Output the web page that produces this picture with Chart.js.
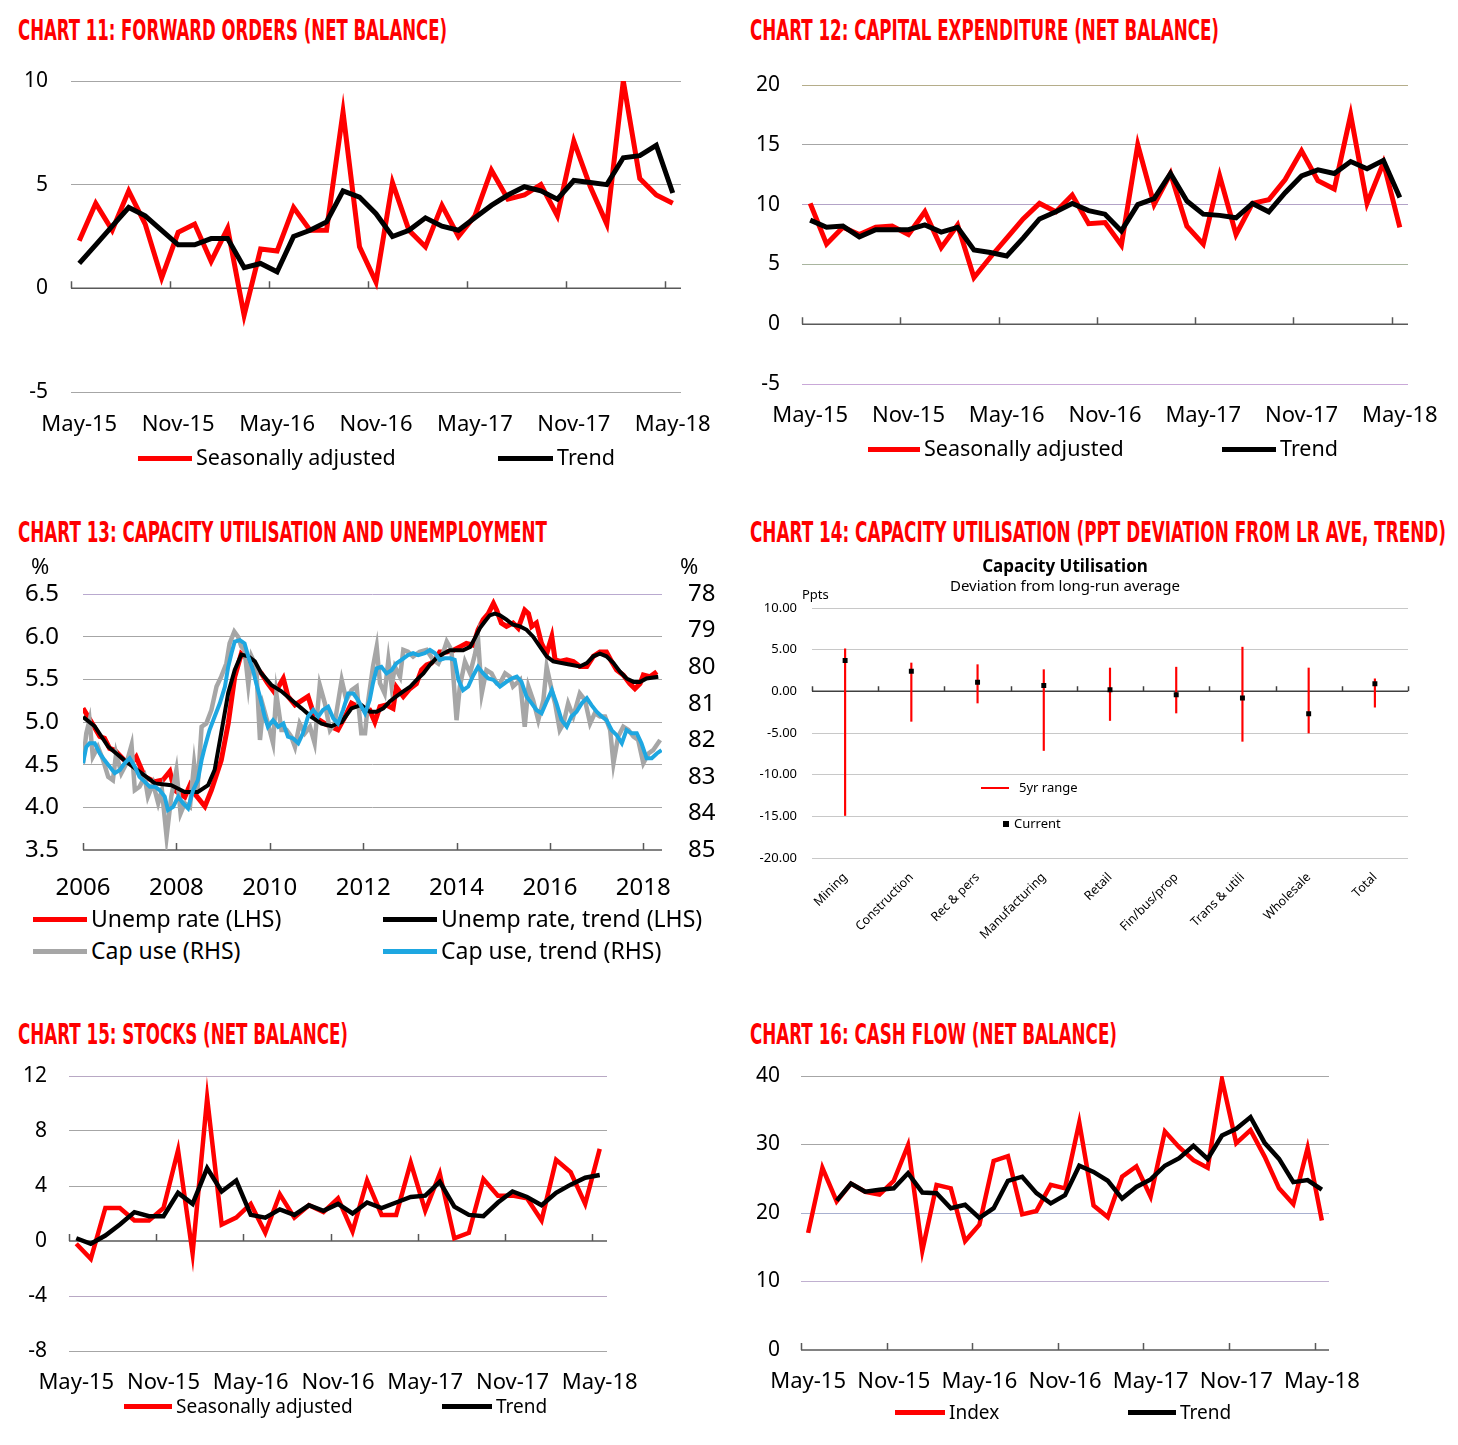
<!DOCTYPE html>
<html>
<head>
<meta charset="utf-8">
<script src="https://cdn.jsdelivr.net/npm/chart.js@4.4.0/dist/chart.umd.min.js"></script>
<style>
  body { margin: 0; width: 1458px; height: 1445px; background: #fff; position: relative; overflow: hidden;
         font-family: "Noto Sans", "Open Sans", sans-serif; }
  canvas { position: absolute; }
  .title { position: absolute; font-family: "Liberation Sans Narrow", "DejaVu Sans Condensed", "Liberation Sans", sans-serif;
           font-weight: bold; color: #f00; font-size: 28px; line-height: 1; white-space: nowrap; transform-origin: left top; }
  .leg { position: absolute; white-space: nowrap; color: #000; line-height: 26px; }
  .leg i { display: inline-block; height: 5px; vertical-align: middle; margin-right: 4px; position: relative; top: -1px; }
  .txt { position: absolute; white-space: nowrap; color: #000; }
</style>
</head>
<body>

<div class="title" data-w="429" style="left:18px;top:17px">CHART 11: FORWARD ORDERS (NET BALANCE)</div>
<div class="title" data-w="469" style="left:750px;top:17px">CHART 12: CAPITAL EXPENDITURE (NET BALANCE)</div>
<div class="title" data-w="529" style="left:18px;top:519px">CHART 13: CAPACITY UTILISATION AND UNEMPLOYMENT</div>
<div class="title" data-w="696" style="left:750px;top:519px">CHART 14: CAPACITY UTILISATION (PPT DEVIATION FROM LR AVE, TREND)</div>
<div class="title" data-w="330" style="left:18px;top:1021px">CHART 15: STOCKS (NET BALANCE)</div>
<div class="title" data-w="367" style="left:750px;top:1021px">CHART 16: CASH FLOW (NET BALANCE)</div>

<canvas id="c11" width="720" height="390" style="left:0;top:60px"></canvas>
<canvas id="c12" width="728" height="390" style="left:730px;top:60px"></canvas>
<canvas id="c13" width="730" height="330" style="left:0;top:575px"></canvas>
<canvas id="c14" width="728" height="360" style="left:730px;top:595px"></canvas>
<canvas id="c15" width="720" height="385" style="left:0;top:1060px"></canvas>
<canvas id="c16" width="728" height="385" style="left:730px;top:1060px"></canvas>

<!-- legends -->
<div class="leg" style="left:138px;top:444px;font-size:21.5px"><i style="width:54px;background:#f00"></i>Seasonally adjusted</div>
<div class="leg" style="left:498px;top:444px;font-size:21.5px"><i style="width:55px;background:#000"></i>Trend</div>
<div class="leg" style="left:868px;top:435px;font-size:21.5px"><i style="width:52px;background:#f00"></i>Seasonally adjusted</div>
<div class="leg" style="left:1222px;top:435px;font-size:21.5px"><i style="width:54px;background:#000"></i>Trend</div>

<div class="txt" style="left:31px;top:550px;font-size:22px">%</div>
<div class="txt" style="left:680px;top:550px;font-size:22px">%</div>
<div class="leg" style="left:33px;top:905px;font-size:23px"><i style="width:54px;background:#f00"></i>Unemp rate (LHS)</div>
<div class="leg" style="left:383px;top:905px;font-size:23px"><i style="width:54px;background:#000"></i>Unemp rate, trend (LHS)</div>
<div class="leg" style="left:33px;top:937px;font-size:23px"><i style="width:54px;background:#a6a6a6"></i>Cap use (RHS)</div>
<div class="leg" style="left:383px;top:937px;font-size:23px"><i style="width:54px;background:#1ea7e1"></i>Cap use, trend (RHS)</div>

<div class="txt" style="left:1065px;top:554px;font-size:17px;font-weight:bold;transform:translateX(-50%)">Capacity Utilisation</div>
<div class="txt" style="left:1065px;top:575px;font-size:15px;transform:translateX(-50%)">Deviation from long-run average</div>
<div class="txt" style="left:802px;top:585px;font-size:13px">Ppts</div>
<div class="leg" style="left:981px;top:774px;font-size:13px"><i style="width:28px;height:2px;background:#f00;margin-right:10px"></i>5yr range</div>
<div class="leg" style="left:1003px;top:810px;font-size:13px"><i style="width:6px;height:6px;background:#000;margin-right:5px"></i>Current</div>

<div class="leg" style="left:124px;top:1393px;font-size:19px"><i style="width:48px;background:#f00"></i>Seasonally adjusted</div>
<div class="leg" style="left:442px;top:1393px;font-size:19px"><i style="width:50px;background:#000"></i>Trend</div>
<div class="leg" style="left:895px;top:1399px;font-size:19px"><i style="width:50px;background:#f00"></i>Index</div>
<div class="leg" style="left:1128px;top:1399px;font-size:19px"><i style="width:48px;background:#000"></i>Trend</div>

<script>
// ---- shared month categories (May-15 .. May-18)
const months = ['May-15','Jun-15','Jul-15','Aug-15','Sep-15','Oct-15','Nov-15','Dec-15','Jan-16','Feb-16',
  'Mar-16','Apr-16','May-16','Jun-16','Jul-16','Aug-16','Sep-16','Oct-16','Nov-16','Dec-16','Jan-17','Feb-17',
  'Mar-17','Apr-17','May-17','Jun-17','Jul-17','Aug-17','Sep-17','Oct-17','Nov-17','Dec-17','Jan-18','Feb-18',
  'Mar-18','Apr-18','May-18'];

// Chart 11 - forward orders
const fwdSA = [2.3, 4.1, 2.8, 4.7, 3.1, 0.5, 2.7, 3.1, 1.3, 2.9, -1.3, 1.9, 1.8, 3.9, 2.8, 2.8, 8.5, 2.0, 0.3,
  5.1, 2.8, 2.0, 4.0, 2.5, 3.5, 5.7, 4.3, 4.5, 5.0, 3.5, 7.1, 4.9, 3.1, 10.0, 5.3, 4.5, 4.1];
const fwdTrend = [1.2, 2.1, 3.0, 3.9, 3.5, 2.8, 2.1, 2.1, 2.4, 2.4, 1.0, 1.2, 0.8, 2.5, 2.8, 3.2, 4.7, 4.4, 3.6,
  2.5, 2.8, 3.4, 3.0, 2.8, 3.4, 4.0, 4.5, 4.9, 4.7, 4.3, 5.2, 5.1, 5.0, 6.3, 6.4, 6.9, 4.6];

// Chart 12 - capital expenditure
const capexSA = [10.1, 6.7, 8.1, 7.5, 8.1, 8.2, 7.5, 9.4, 6.4, 8.3, 3.9, 5.6, 7.2, 8.8, 10.1, 9.4, 10.8, 8.4,
  8.5, 6.6, 15.0, 10.0, 12.6, 8.2, 6.7, 12.4, 7.5, 10.1, 10.4, 12.1, 14.5, 12.0, 11.3, 17.5, 10.1, 13.5, 8.1];
const capexTrend = [8.7, 8.1, 8.2, 7.3, 7.9, 7.9, 7.9, 8.3, 7.7, 8.1, 6.2, 6.0, 5.7, 7.2, 8.8, 9.4, 10.1, 9.5,
  9.2, 7.8, 10.0, 10.5, 12.6, 10.3, 9.2, 9.1, 8.9, 10.1, 9.4, 11.0, 12.4, 12.9, 12.6, 13.6, 13.0, 13.7, 10.6];

// Chart 13 - unemployment (LHS) and capacity utilisation (RHS, inverted)
const unempYears = [2006.00, 2006.18, 2006.36, 2006.46, 2006.57, 2006.68, 2006.89, 2007.04, 2007.14, 2007.32,
  2007.54, 2007.71, 2007.86, 2007.96, 2008.18, 2008.29, 2008.39, 2008.61, 2008.75, 2008.96, 2009.11, 2009.25,
  2009.39, 2009.54, 2009.68, 2009.82, 2009.96, 2010.11, 2010.29, 2010.39, 2010.54, 2010.82, 2010.96, 2011.18,
  2011.46, 2011.61, 2011.75, 2011.96, 2012.14, 2012.25, 2012.36, 2012.50, 2012.64, 2012.71, 2012.86, 2013.00,
  2013.14, 2013.25, 2013.36, 2013.46, 2013.57, 2013.64, 2013.79, 2013.93, 2014.07, 2014.21, 2014.36, 2014.46,
  2014.57, 2014.68, 2014.79, 2014.86, 2014.96, 2015.07, 2015.21, 2015.32, 2015.46, 2015.54, 2015.61, 2015.71,
  2015.82, 2015.93, 2016.04, 2016.11, 2016.21, 2016.36, 2016.50, 2016.64, 2016.79, 2016.93, 2017.07, 2017.21,
  2017.32, 2017.43, 2017.57, 2017.71, 2017.82, 2017.93, 2018.00, 2018.14, 2018.29];
const unempRate = [5.16, 5.00, 4.83, 4.81, 4.69, 4.67, 4.55, 4.52, 4.59, 4.36,
  4.30, 4.32, 4.42, 4.20, 4.12, 4.26, 4.16, 4.01, 4.20, 4.55, 4.98, 5.53,
  5.80, 5.73, 5.65, 5.57, 5.45, 5.34, 5.51, 5.30, 5.20, 5.30, 5.06, 4.98,
  4.91, 5.06, 5.22, 5.16, 5.14, 5.00, 5.18, 5.20, 5.16, 5.41, 5.30, 5.39,
  5.45, 5.61, 5.67, 5.69, 5.75, 5.82, 5.82, 5.84, 5.88, 5.92, 5.90, 6.08,
  6.20, 6.27, 6.39, 6.31, 6.16, 6.12, 6.16, 6.10, 6.31, 6.27, 6.12, 6.16,
  5.92, 5.80, 6.00, 5.73, 5.71, 5.73, 5.71, 5.65, 5.65, 5.77, 5.82, 5.82,
  5.71, 5.61, 5.55, 5.45, 5.39, 5.45, 5.55, 5.53, 5.59];
const unempTrendYears = [2006.00, 2006.25, 2006.54, 2006.89, 2007.25, 2007.54, 2007.89, 2008.18, 2008.46, 2008.68,
  2008.82, 2008.96, 2009.11, 2009.25, 2009.39, 2009.54, 2009.68, 2009.82, 2010.04, 2010.25, 2010.46, 2010.68,
  2010.89, 2011.11, 2011.32, 2011.54, 2011.75, 2011.96, 2012.14, 2012.29, 2012.43, 2012.57, 2012.71, 2012.86,
  2013.00, 2013.14, 2013.29, 2013.43, 2013.57, 2013.71, 2013.86, 2014.14, 2014.29, 2014.39, 2014.50, 2014.61,
  2014.71, 2014.82, 2014.93, 2015.07, 2015.21, 2015.36, 2015.50, 2015.64, 2015.79, 2015.93, 2016.07, 2016.36,
  2016.64, 2016.79, 2016.93, 2017.07, 2017.21, 2017.36, 2017.50, 2017.64, 2017.79, 2017.93, 2018.07, 2018.32];
const unempTrend = [5.06, 4.95, 4.71, 4.55, 4.40, 4.28, 4.26, 4.18, 4.18, 4.26,
  4.44, 4.87, 5.34, 5.61, 5.79, 5.77, 5.71, 5.57, 5.43, 5.36, 5.26, 5.16,
  5.06, 4.98, 4.95, 5.00, 5.16, 5.20, 5.12, 5.12, 5.16, 5.24, 5.30, 5.36,
  5.41, 5.49, 5.57, 5.67, 5.75, 5.80, 5.84, 5.84, 5.88, 5.98, 6.10, 6.18,
  6.25, 6.27, 6.25, 6.20, 6.14, 6.12, 6.08, 6.00, 5.88, 5.77, 5.71, 5.68,
  5.65, 5.69, 5.77, 5.80, 5.77, 5.69, 5.59, 5.51, 5.47, 5.47, 5.51, 5.53];
const capYears = [2006.00, 2006.07, 2006.14, 2006.21, 2006.32, 2006.43, 2006.54, 2006.64, 2006.71, 2006.82,
  2006.93, 2007.04, 2007.11, 2007.21, 2007.32, 2007.39, 2007.50, 2007.61, 2007.69, 2007.79, 2007.89, 2008.00,
  2008.09, 2008.18, 2008.29, 2008.38, 2008.45, 2008.54, 2008.64, 2008.75, 2008.86, 2008.96, 2009.07, 2009.14,
  2009.24, 2009.32, 2009.39, 2009.46, 2009.54, 2009.61, 2009.71, 2009.79, 2009.86, 2009.96, 2010.07, 2010.14,
  2010.25, 2010.36, 2010.46, 2010.54, 2010.64, 2010.75, 2010.86, 2010.96, 2011.07, 2011.18, 2011.29, 2011.39,
  2011.54, 2011.64, 2011.75, 2011.86, 2011.96, 2012.04, 2012.11, 2012.21, 2012.29, 2012.36, 2012.46, 2012.54,
  2012.61, 2012.68, 2012.79, 2012.86, 2012.96, 2013.07, 2013.21, 2013.36, 2013.50, 2013.61, 2013.71, 2013.79,
  2013.89, 2014.00, 2014.07, 2014.18, 2014.29, 2014.39, 2014.46, 2014.54, 2014.64, 2014.75, 2014.86, 2014.93,
  2015.04, 2015.14, 2015.21, 2015.36, 2015.46, 2015.54, 2015.64, 2015.75, 2015.86, 2015.93, 2016.04, 2016.11,
  2016.21, 2016.29, 2016.39, 2016.50, 2016.64, 2016.75, 2016.86, 2016.96, 2017.07, 2017.18, 2017.29, 2017.36,
  2017.46, 2017.57, 2017.68, 2017.79, 2017.89, 2018.00, 2018.11, 2018.21, 2018.36];
const capUse = [82.63, 81.81, 81.45, 82.45, 82.18, 82.54, 83.00, 83.09, 82.36, 82.90,
  82.63, 82.13, 83.36, 83.27, 83.00, 83.54, 83.18, 83.72, 83.36, 84.64, 83.54, 82.81,
  84.00, 83.72, 83.82, 82.63, 83.36, 81.63, 81.54, 81.17, 80.53, 80.26, 79.90, 79.35,
  79.03, 79.17, 79.44, 79.53, 80.49, 79.71, 79.99, 81.99, 81.08, 81.54, 82.08, 80.72,
  81.72, 81.72, 81.90, 82.18, 81.54, 81.81, 81.63, 82.08, 80.49, 80.99, 81.72, 81.54,
  80.35, 80.90, 80.63, 80.53, 81.81, 81.81, 80.90, 79.99, 79.44, 80.44, 80.72, 79.80,
  80.53, 79.99, 80.26, 79.53, 79.58, 79.71, 79.58, 79.53, 79.80, 79.90, 79.62, 79.30,
  79.53, 81.45, 80.53, 79.85, 80.17, 79.67, 79.21, 80.72, 80.08, 80.17, 80.44, 80.44,
  80.17, 80.26, 80.53, 80.35, 81.63, 80.53, 80.90, 81.45, 80.90, 79.99, 80.63, 80.99,
  81.72, 81.54, 80.99, 81.35, 80.72, 80.90, 81.54, 81.26, 81.35, 81.35, 81.72, 82.63,
  81.90, 81.63, 81.72, 81.90, 81.99, 82.63, 82.36, 82.27, 81.99];
const capTrendYears = [2006.00, 2006.07, 2006.14, 2006.25, 2006.36, 2006.46, 2006.57, 2006.68, 2006.79, 2006.89,
  2007.00, 2007.11, 2007.21, 2007.32, 2007.43, 2007.54, 2007.64, 2007.75, 2007.82, 2007.93, 2008.04, 2008.14,
  2008.25, 2008.36, 2008.46, 2008.54, 2008.61, 2008.71, 2008.82, 2008.93, 2009.04, 2009.11, 2009.18, 2009.25,
  2009.36, 2009.46, 2009.54, 2009.64, 2009.71, 2009.79, 2009.89, 2009.96, 2010.07, 2010.18, 2010.29, 2010.39,
  2010.50, 2010.61, 2010.71, 2010.82, 2010.93, 2011.04, 2011.14, 2011.25, 2011.36, 2011.46, 2011.57, 2011.68,
  2011.79, 2011.89, 2012.04, 2012.14, 2012.21, 2012.29, 2012.39, 2012.50, 2012.61, 2012.71, 2012.82, 2012.96,
  2013.07, 2013.18, 2013.32, 2013.43, 2013.54, 2013.64, 2013.75, 2013.86, 2013.96, 2014.04, 2014.14, 2014.25,
  2014.36, 2014.46, 2014.57, 2014.68, 2014.79, 2014.93, 2015.07, 2015.18, 2015.29, 2015.39, 2015.50, 2015.61,
  2015.71, 2015.82, 2015.93, 2016.04, 2016.14, 2016.25, 2016.36, 2016.46, 2016.57, 2016.68, 2016.79, 2016.89,
  2017.00, 2017.11, 2017.21, 2017.32, 2017.43, 2017.54, 2017.64, 2017.75, 2017.86, 2017.96, 2018.07, 2018.18,
  2018.29, 2018.39];
const capTrend = [82.63, 82.18, 82.08, 82.08, 82.36, 82.54, 82.72, 82.90, 82.81, 82.63,
  82.49, 82.72, 83.00, 83.13, 83.27, 83.27, 83.36, 83.54, 83.91, 83.82, 83.54, 83.72,
  83.86, 83.36, 83.09, 82.54, 82.18, 81.72, 81.35, 80.99, 80.53, 79.99, 79.62, 79.30,
  79.26, 79.35, 79.71, 80.08, 80.44, 80.81, 81.35, 81.63, 81.45, 81.63, 81.54, 81.90,
  81.95, 82.08, 81.81, 81.35, 81.17, 81.35, 81.17, 81.08, 81.40, 81.54, 81.17, 80.72,
  80.72, 80.90, 81.26, 80.90, 80.44, 80.03, 79.99, 80.17, 80.08, 79.90, 79.80, 79.67,
  79.62, 79.67, 79.62, 79.53, 79.62, 79.80, 79.76, 79.76, 79.80, 80.35, 80.63, 80.53,
  80.22, 79.99, 80.17, 80.31, 80.35, 80.53, 80.40, 80.31, 80.26, 80.40, 80.81, 80.99,
  81.17, 81.26, 80.94, 80.63, 80.99, 81.45, 81.63, 81.35, 81.22, 80.99, 80.85, 81.04,
  81.22, 81.35, 81.45, 81.72, 81.86, 82.08, 81.72, 81.81, 81.81, 82.08, 82.49, 82.49,
  82.36, 82.27];
const yearTicks = [2006, 2008, 2010, 2012, 2014, 2016, 2018];

// Chart 14 - capacity utilisation by sector
const sectors = ['Mining', 'Construction', 'Rec & pers', 'Manufacturing', 'Retail', 'Fin/bus/prop',
  'Trans & utili', 'Wholesale', 'Total'];
const rangeHigh = [5.1, 3.4, 3.2, 2.6, 2.8, 2.9, 5.3, 2.8, 1.5];
const rangeLow = [-14.9, -3.6, -1.4, -7.1, -3.5, -2.6, -6.0, -5.0, -1.9];
const current = [3.7, 2.4, 1.1, 0.7, 0.2, -0.4, -0.8, -2.7, 0.9];

// Chart 15 - stocks
const stocksSA = [-0.2, -1.3, 2.4, 2.4, 1.5, 1.5, 2.4, 6.6, -0.9, 10.4, 1.2, 1.7, 2.7, 0.6, 3.4, 1.7, 2.6, 2.1, 3.1,
  0.7, 4.4, 1.9, 1.9, 5.7, 2.2, 4.9, 0.2, 0.6, 4.5, 3.3, 3.3, 3.1, 1.5, 5.9, 5.0, 2.7, 6.7];
const stocksTrend = [0.2, -0.2, 0.4, 1.2, 2.1, 1.8, 1.8, 3.5, 2.7, 5.3, 3.6, 4.4, 1.9, 1.7, 2.3, 1.9, 2.6, 2.2, 2.7,
  2.0, 2.8, 2.4, 2.8, 3.2, 3.3, 4.3, 2.5, 1.9, 1.8, 2.8, 3.6, 3.2, 2.6, 3.5, 4.1, 4.6, 4.8];

// Chart 16 - cash flow
const cashIndex = [17.1, 26.6, 21.7, 24.3, 23.1, 22.7, 24.7, 29.9, 14.5, 24.1, 23.6, 15.9, 18.3, 27.6, 28.3, 19.8, 20.3, 24.1, 23.6,
  33.2, 21.1, 19.4, 25.3, 26.8, 22.4, 31.9, 29.6, 27.7, 26.6, 39.5, 30.2, 32.1, 28.2, 23.6, 21.3, 29.5, 18.9];
const cashTrend = [null, null, 21.8, 24.3, 23.1, 23.4, 23.6, 25.8, 23.0, 22.9, 20.7, 21.2, 19.3, 20.7, 24.7, 25.3, 22.9, 21.4, 22.6,
  26.9, 26.0, 24.7, 22.1, 23.8, 24.9, 26.9, 28.0, 29.8, 27.9, 31.3, 32.3, 34.0, 30.2, 27.9, 24.5, 24.8, 23.4];


// fit the condensed titles to their width
document.querySelectorAll('.title').forEach(t => {
  const w = t.getBoundingClientRect().width;
  t.style.transform = 'scaleX(' + (t.dataset.w / w) + ')';
});

Chart.defaults.font.family = '"Noto Sans", "Open Sans", sans-serif';
Chart.defaults.color = '#000';

const clear = 'rgba(0,0,0,0)';

// axis line drawn at a value with small upward tick marks
const axisLine = {
  id: 'axisLine',
  beforeDatasetsDraw(chart, args, opts) {
    if (opts.value === undefined) return;
    const { ctx, chartArea: a } = chart;
    const y = chart.scales.y.getPixelForValue(opts.value);
    const xs = [];
    if (opts.years) {
      opts.years.forEach(v => xs.push(chart.scales.x.getPixelForValue(v)));
    } else {
      const n = chart.data.labels.length;
      const w = (a.right - a.left) / n;
      for (let i = 0; i < n; i += opts.step) xs.push(a.left + i * w);
      if (opts.end) xs.push(a.right);
    }
    ctx.save();
    ctx.strokeStyle = opts.color || '#595959';
    ctx.lineWidth = 1.5;
    ctx.beginPath();
    ctx.moveTo(a.left, y);
    ctx.lineTo(a.right, y);
    xs.forEach(x => { ctx.moveTo(Math.round(x) + 0.5, y); ctx.lineTo(Math.round(x) + 0.5, y - (opts.tick || 7)); });
    ctx.stroke();
    ctx.restore();
  }
};

function lineSet(data, color, width, order) {
  return { data: data, borderColor: color, backgroundColor: color, borderWidth: width, pointRadius: 0,
           pointHoverRadius: 0, tension: 0, order: order };
}

// label offsets go through tickLength (invisible ticks) so they do not add layout padding
function monthChart(id, c) {
  return new Chart(document.getElementById(id), {
    type: 'line',
    data: { labels: months, datasets: c.datasets },
    options: {
      responsive: false,
      animation: false,
      layout: { padding: { top: c.padTop, right: c.padRight, left: 0, bottom: 0 } },
      plugins: { legend: { display: false }, tooltip: { enabled: false },
                 axisLine: { value: 0, step: 6 } },
      scales: {
        x: {
          offset: true,
          grid: { display: false, tickLength: c.xPad },
          border: { display: false },
          ticks: { autoSkip: false, maxRotation: 0, padding: 0, font: { size: 22 },
                   callback: (v, i) => i % 6 === 0 ? months[i] : '' },
          afterFit: s => { s.height = c.xHeight; }
        },
        y: {
          min: c.min, max: c.max,
          ticks: { stepSize: c.step, padding: 0, font: { size: 21 } },
          grid: { drawTicks: true, tickLength: c.yPad, tickColor: clear,
                  color: ctx => c.grid[ctx.tick.value] || '#a6a6a6', lineWidth: 1 },
          border: { display: false },
          afterFit: s => { s.width = c.yWidth; }
        }
      }
    },
    plugins: [axisLine]
  });
}

monthChart('c11', {
  datasets: [lineSet(fwdTrend, '#000', 5, 0), lineSet(fwdSA, '#f00', 5, 1)],
  min: -5, max: 10, step: 5, padTop: 21, padRight: 39, yWidth: 71, xHeight: 58, xPad: 20, yPad: 23,
  grid: { 0: clear }
});

monthChart('c12', {
  datasets: [lineSet(capexTrend, '#000', 5, 0), lineSet(capexSA, '#f00', 5, 1)],
  min: -5, max: 20, step: 5, padTop: 25, padRight: 50, yWidth: 72, xHeight: 66, xPad: 19, yPad: 22,
  grid: { 0: clear, 20: '#b5ad8a', 10: '#b3a3c7', 5: '#a9b59f', '-5': '#c9a8d8' }
});

monthChart('c15', {
  datasets: [lineSet(stocksTrend, '#000', 4.5, 0), lineSet(stocksSA, '#f00', 4.5, 1)],
  min: -8, max: 12, step: 4, padTop: 16, padRight: 113, yWidth: 69, xHeight: 94, xPad: 19, yPad: 22,
  grid: { 0: clear, 12: '#b8a8c4', '-4': '#b8a8c4' }
});

monthChart('c16', {
  datasets: [lineSet(cashTrend, '#000', 4.5, 0), lineSet(cashIndex, '#f00', 4.5, 1)],
  min: 0, max: 40, step: 10, padTop: 16, padRight: 129, yWidth: 71, xHeight: 95, xPad: 19, yPad: 21,
  grid: { 0: clear, 20: '#a8b0d0', 10: '#c0b0d0' }
});

// Chart 13
const pairs = (xs, ys) => xs.map((x, i) => ({ x: x, y: ys[i] }));
new Chart(document.getElementById('c13'), {
  type: 'line',
  data: {
    datasets: [
      Object.assign(lineSet(pairs(capTrendYears, capTrend), '#1ea7e1', 4, 0), { yAxisID: 'y2' }),
      lineSet(pairs(unempTrendYears, unempTrend), '#000', 4, 1),
      Object.assign(lineSet(pairs(capYears, capUse), '#a6a6a6', 4.5, 2), { yAxisID: 'y2' }),
      lineSet(pairs(unempYears, unempRate), '#f00', 5, 3)
    ]
  },
  options: {
    responsive: false,
    animation: false,
    layout: { padding: { top: 19, left: 0, right: 0, bottom: 0 } },
    plugins: { legend: { display: false }, tooltip: { enabled: false },
               axisLine: { value: 3.5, years: yearTicks } },
    scales: {
      x: {
        type: 'linear', min: 2006, max: 2018.4,
        grid: { display: false, tickLength: 24 }, border: { display: false },
        afterBuildTicks: s => { s.ticks = yearTicks.map(v => ({ value: v })); },
        ticks: { padding: 0, font: { size: 24 }, callback: v => String(v) },
        afterFit: s => { s.height = 55; }
      },
      y: {
        position: 'left', min: 3.5, max: 6.5,
        ticks: { stepSize: 0.5, padding: 0, font: { size: 24 }, callback: v => v.toFixed(1) },
        grid: { drawTicks: true, tickLength: 24, tickColor: clear,
                color: ctx => ctx.tick.value === 6.5 ? '#b9a9cf' : (ctx.tick.value === 3.5 ? clear : '#a6a6a6') },
        border: { display: false },
        afterFit: s => { s.width = 83; }
      },
      y2: {
        position: 'right', reverse: true, min: 78, max: 85,
        ticks: { stepSize: 1, padding: 0, font: { size: 24 } },
        grid: { display: false, tickLength: 26 }, border: { display: false },
        afterFit: s => { s.width = 68; }
      }
    }
  },
  plugins: [axisLine]
});

// Chart 14
new Chart(document.getElementById('c14'), {
  type: 'bar',
  data: {
    labels: sectors,
    datasets: [
      { type: 'line', data: current, showLine: false, pointStyle: 'rect', pointRadius: 3.5, pointHoverRadius: 3.5,
        pointBackgroundColor: '#000', pointBorderColor: '#000', pointBorderWidth: 0, order: 0 },
      { type: 'bar', data: rangeLow.map((v, i) => [v, rangeHigh[i]]), backgroundColor: '#f00',
        barThickness: 1.5, order: 1 }
    ]
  },
  options: {
    responsive: false,
    animation: false,
    layout: { padding: { top: 13, right: 50, left: 0, bottom: 0 } },
    plugins: { legend: { display: false }, tooltip: { enabled: false },
               axisLine: { value: 0, step: 1, end: true, tick: 5, color: '#404040' } },
    scales: {
      x: {
        grid: { display: false, tickLength: 12 }, border: { display: false },
        ticks: { autoSkip: false, minRotation: 45, maxRotation: 45, padding: 0, font: { size: 12.5 } },
        afterFit: s => { s.height = 97; }
      },
      y: {
        min: -20, max: 10,
        ticks: { stepSize: 5, padding: 0, font: { size: 13 }, callback: v => v.toFixed(2) },
        grid: { drawTicks: true, tickLength: 15, tickColor: clear,
                color: ctx => ctx.tick.value === 0 ? clear : '#c8c8c8' },
        border: { display: false },
        afterFit: s => { s.width = 82; }
      }
    }
  },
  plugins: [axisLine]
});
</script>
</body>
</html>
